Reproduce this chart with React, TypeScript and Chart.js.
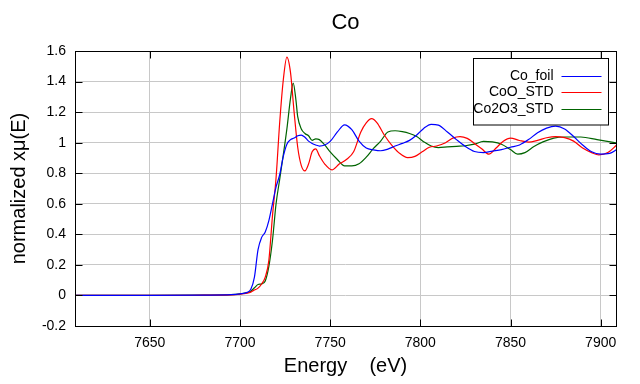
import React, { useEffect, useRef } from "react";
import { Chart, registerables } from "chart.js";

Chart.register(...registerables);

const TITLE = "Co";
const X_TITLE = "Energy    (eV)";
const Y_TITLE = "normalized xμ(E)";
const X_TICKS = [7650, 7700, 7750, 7800, 7850, 7900];
const Y_TICKS = [-0.2, 0, 0.2, 0.4, 0.6, 0.8, 1, 1.2, 1.4, 1.6];
const SERIES_NAMES = ["Co_foil", "CoO_STD", "Co2O3_STD"];
const SERIES_COLORS = ["#0000ff", "#ff0000", "#006400"];

const FOIL_E = [7608.5, 7650, 7680, 7695, 7700, 7704, 7706, 7708, 7710, 7712, 7714, 7716, 7718, 7720, 7722, 7724, 7726, 7728, 7730, 7732, 7734, 7736, 7738, 7740, 7742, 7744, 7747, 7750, 7754, 7758, 7762, 7766, 7770, 7774, 7778, 7782, 7786, 7790, 7794, 7798, 7802, 7806, 7810, 7815, 7820, 7825, 7830, 7835, 7840, 7845, 7850, 7855, 7860, 7865, 7870, 7875, 7880, 7885, 7890, 7895, 7900, 7905, 7909];
const FOIL_MU = [0, 0, 0.002, 0.005, 0.01, 0.02, 0.04, 0.12, 0.3, 0.38, 0.415, 0.49, 0.6, 0.71, 0.79, 0.91, 0.99, 1.02, 1.03, 1.045, 1.05, 1.035, 1.01, 0.995, 0.985, 0.978, 0.985, 1.008, 1.07, 1.117, 1.085, 1.01, 0.965, 0.953, 0.947, 0.958, 0.978, 0.995, 1.015, 1.05, 1.095, 1.12, 1.115, 1.07, 1.02, 0.975, 0.942, 0.935, 0.945, 0.955, 0.97, 0.985, 1.02, 1.065, 1.095, 1.108, 1.09, 1.04, 0.985, 0.94, 0.925, 0.93, 0.955];

const COO_E = [7608.5, 7650, 7680, 7695, 7700, 7704, 7706, 7708, 7710, 7712, 7714, 7716, 7718, 7720, 7722, 7724, 7726, 7728, 7730, 7732, 7734, 7736, 7738, 7740, 7742, 7744, 7747, 7751, 7755, 7759, 7763, 7767, 7770, 7773, 7776, 7780, 7784, 7788, 7793, 7797, 7801, 7805, 7809, 7814, 7818, 7822, 7826, 7830, 7834, 7838, 7842, 7846, 7850, 7855, 7860, 7865, 7870, 7875, 7880, 7885, 7890, 7895, 7899, 7904, 7909];
const COO_MU = [0, 0, 0.002, 0.004, 0.008, 0.015, 0.022, 0.035, 0.048, 0.075, 0.12, 0.23, 0.52, 0.77, 1.13, 1.41, 1.56, 1.46, 1.2, 0.97, 0.85, 0.815, 0.86, 0.94, 0.96, 0.915, 0.86, 0.822, 0.86, 0.89, 0.94, 1.07, 1.13, 1.157, 1.13, 1.05, 0.985, 0.935, 0.902, 0.91, 0.94, 0.97, 0.978, 1.0, 1.03, 1.04, 1.028, 0.995, 0.96, 0.925, 0.965, 1.01, 1.03, 1.014, 1.004, 1.015, 1.032, 1.04, 1.033, 1.01, 0.965, 0.935, 0.92, 0.935, 0.986];

const CO2O3_E = [7608.5, 7650, 7680, 7695, 7700, 7704, 7706, 7708, 7710, 7712, 7714, 7716, 7718, 7720, 7722, 7724, 7726, 7728, 7729.5, 7731, 7732, 7734, 7736, 7738, 7740, 7742, 7744, 7747, 7750, 7754, 7758, 7762, 7766, 7770, 7774, 7778, 7782, 7786, 7790, 7794, 7798, 7802, 7806, 7810, 7815, 7820, 7825, 7830, 7835, 7840, 7845, 7850, 7854, 7858, 7863, 7868, 7874, 7880, 7889, 7898, 7909];
const CO2O3_MU = [0, 0, 0.002, 0.005, 0.01, 0.018, 0.028, 0.05, 0.072, 0.076, 0.095, 0.19, 0.36, 0.6, 0.76, 0.92, 1.09, 1.29, 1.39, 1.28, 1.17, 1.09, 1.06, 1.045, 1.015, 1.025, 1.02, 0.985, 0.94, 0.89, 0.848, 0.848, 0.862, 0.905, 0.962, 1.01, 1.07, 1.078, 1.072, 1.06, 1.04, 1.005, 0.978, 0.968, 0.972, 0.976, 0.98, 0.99, 1.008, 1.005, 0.99, 0.955, 0.925, 0.935, 0.975, 1.005, 1.03, 1.037, 1.037, 1.02, 0.997];

const FONT = "'Liberation Sans', Arial, Helvetica, sans-serif";

const framePlugin = {
  id: "frame",
  afterDraw(chart: any) {
    const { ctx, chartArea: a, scales } = chart;
    ctx.save();
    // title centred over the plot area
    ctx.fillStyle = "#000";
    ctx.font = "22px " + FONT;
    ctx.textAlign = "center";
    ctx.textBaseline = "middle";
    ctx.fillText(TITLE, (a.left + a.right) / 2, 23);

    ctx.strokeStyle = "#000";
    ctx.lineWidth = 1;
    const L = Math.round(a.left) + 0.5;
    const R = Math.round(a.right) + 0.5;
    const T = Math.round(a.top) + 0.5;
    const B = Math.round(a.bottom) + 0.5;
    const tl = 7;
    ctx.beginPath();
    X_TICKS.forEach((v) => {
      const px = Math.round(scales.x.getPixelForValue(v)) + 0.5;
      ctx.moveTo(px, B);
      ctx.lineTo(px, B - tl);
      ctx.moveTo(px, T);
      ctx.lineTo(px, T + tl);
    });
    Y_TICKS.forEach((v) => {
      const py = Math.round(scales.y.getPixelForValue(v)) + 0.5;
      ctx.moveTo(L, py);
      ctx.lineTo(L + tl, py);
      ctx.moveTo(R, py);
      ctx.lineTo(R - tl, py);
    });
    ctx.stroke();
    ctx.strokeRect(L, T, R - L, B - T);

    // legend
    const boxR = R - 8;
    const boxL = boxR - 135;
    const boxT = T + 7;
    const boxB = boxT + 66.5;
    ctx.fillStyle = "#fff";
    ctx.fillRect(boxL, boxT, boxR - boxL, boxB - boxT);
    ctx.strokeStyle = "#000";
    ctx.strokeRect(boxL, boxT, boxR - boxL, boxB - boxT);
    ctx.font = "14px " + FONT;
    ctx.textAlign = "right";
    ctx.textBaseline = "middle";
    SERIES_NAMES.forEach((name, i) => {
      const y = boxT + 17 + i * 16.5;
      ctx.fillStyle = "#000";
      ctx.fillText(name, boxR - 55, y + 0.5);
      ctx.strokeStyle = SERIES_COLORS[i];
      ctx.lineWidth = 1.2;
      ctx.beginPath();
      ctx.moveTo(boxR - 47, Math.round(y) + 0.5);
      ctx.lineTo(boxR - 7, Math.round(y) + 0.5);
      ctx.stroke();
    });
    ctx.restore();
  },
};

export default function App() {
  const ref = useRef<HTMLCanvasElement | null>(null);
  useEffect(() => {
    document.body.style.margin = "0";
    const canvas = ref.current;
    if (!canvas) return;
    const series = [
      [FOIL_E, FOIL_MU],
      [COO_E, COO_MU],
      [CO2O3_E, CO2O3_MU],
    ];
    const chart = new Chart(canvas, {
      type: "line",
      data: {
        datasets: series.map(([E, MU], i) => ({
          label: SERIES_NAMES[i],
          data: E.map((x, j) => ({ x, y: MU[j] })),
          borderColor: SERIES_COLORS[i],
          backgroundColor: SERIES_COLORS[i],
          borderWidth: 1.2,
          pointRadius: 0,
          fill: false,
          cubicInterpolationMode: "monotone" as const,
        })),
      },
      options: {
        animation: false,
        responsive: false,
        layout: { padding: { left: 0, right: 24, top: 51, bottom: 0 } },
        plugins: {
          legend: { display: false },
          tooltip: { enabled: false },
          title: { display: false },
        },
        scales: {
          x: {
            type: "linear",
            min: 7608.5,
            max: 7908.5,
            afterBuildTicks: (s: any) => {
              s.ticks = X_TICKS.map((v) => ({ value: v }));
            },
            afterFit: (s: any) => {
              s.height = 58;
            },
            grid: { color: "#c8c8c8", lineWidth: 1, drawTicks: false },
            border: { display: false },
            ticks: {
              color: "#000",
              font: { family: FONT, size: 14 },
              padding: 9,
              maxRotation: 0,
              callback: (v: any) => String(v),
            },
            title: {
              display: true,
              text: X_TITLE,
              color: "#000",
              font: { family: FONT, size: 20 },
              padding: { top: 0, bottom: 6 },
            },
          },
          y: {
            type: "linear",
            min: -0.2,
            max: 1.6,
            afterBuildTicks: (s: any) => {
              s.ticks = Y_TICKS.map((v) => ({ value: v }));
            },
            afterFit: (s: any) => {
              s.width = 75;
            },
            grid: { color: "#c8c8c8", lineWidth: 1, drawTicks: false },
            border: { display: false },
            ticks: {
              color: "#000",
              font: { family: FONT, size: 14 },
              padding: 9,
              callback: (v: any) => String(Number(Number(v).toFixed(1))),
            },
            title: {
              display: true,
              text: Y_TITLE,
              color: "#000",
              font: { family: FONT, size: 20 },
              padding: { top: 7, bottom: 0 },
            },
          },
        },
      },
      plugins: [framePlugin],
    } as any);
    return () => chart.destroy();
  }, []);
  return (
    <div style={{ width: 640, height: 384, background: "#fff" }}>
      <canvas ref={ref} width={640} height={384} style={{ display: "block" }} />
    </div>
  );
}
